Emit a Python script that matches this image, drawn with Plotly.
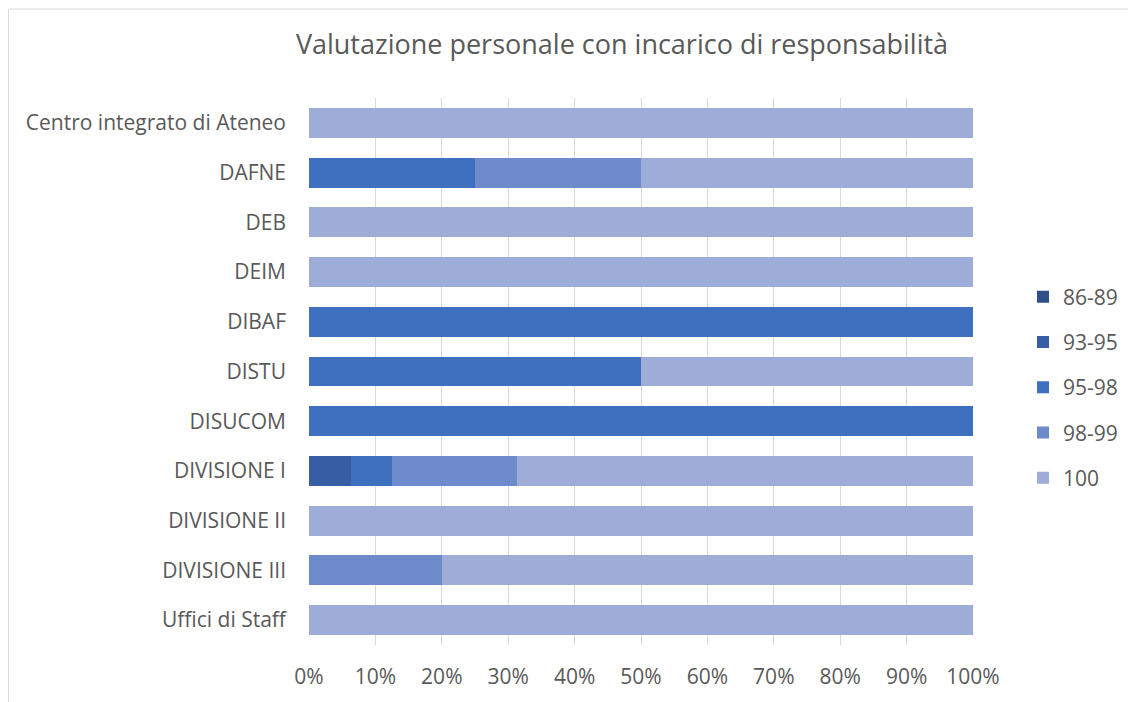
import plotly.graph_objects as go

categories = ["Centro integrato di Ateneo", "DAFNE", "DEB", "DEIM", "DIBAF", "DISTU",
              "DISUCOM", "DIVISIONE I", "DIVISIONE II", "DIVISIONE III", "Uffici di Staff"]
series_names = ["86-89", "93-95", "95-98", "98-99", "100"]
v_86_89 = [0, 0, 0, 0, 0, 0, 0, 0, 0, 0, 0]
v_93_95 = [0, 0, 0, 0, 0, 0, 0, 0.0625, 0, 0, 0]
v_95_98 = [0, 0.25, 0, 0, 1.0, 0.5, 1.0, 0.0625, 0, 0, 0]
v_98_99 = [0, 0.25, 0, 0, 0, 0, 0, 0.1875, 0, 0.2, 0]
v_100 = [1.0, 0.5, 1.0, 1.0, 0, 0.5, 0, 0.6875, 1.0, 0.8, 1.0]
series_values = [v_86_89, v_93_95, v_95_98, v_98_99, v_100]
colors = ["#2e4f8a", "#375ea5", "#3f6fbf", "#6d8acb", "#9eadd8"]
tick_vals = [i / 10 for i in range(11)]
tick_text = [f"{i*10}%" for i in range(11)]

fig = go.Figure()
for name, vals, col in zip(series_names, series_values, colors):
    fig.add_trace(go.Bar(
        y=categories, x=vals, name=name, orientation="h",
        marker=dict(color=col, line=dict(width=0)),
        legendgroup=name,
    ))

# page body has an 8px margin, so the figure is drawn 8px in from the window edge
OFF = 8
W, H = 1136 - OFF, 702 - OFF
ml, mr, mt, mb = 309 - OFF, 163, 98 - OFF, 57
pw, ph = W - ml - mr, H - mt - mb

fig.update_layout(
    width=W, height=H,
    barmode="stack", bargap=0.4,
    margin=dict(l=ml, r=mr, t=mt, b=mb),
    paper_bgcolor="white", plot_bgcolor="white",
    font=dict(family="Open Sans", size=21, color="#595959"),
    title=dict(text="Valutazione personale con incarico di responsabilità",
               x=(622 - OFF - ml) / pw, xref="paper", xanchor="center",
               y=1 - (45 - OFF) / H, yanchor="middle",
               font=dict(size=27, color="#595959")),
    xaxis=dict(range=[0, 1], tickvals=tick_vals, ticktext=tick_text,
               showgrid=True, gridcolor="#d9d9d9", gridwidth=1,
               zeroline=False, showline=False, ticks="", ticklabelstandoff=17),
    yaxis=dict(categoryorder="array", categoryarray=categories, autorange="reversed",
               showgrid=False, zeroline=False, showline=False, ticks="",
               ticklabelstandoff=22),
    legend=dict(x=(1023 - OFF - ml) / pw, xanchor="left",
                y=1 - (387.5 - 98) / ph, yanchor="middle",
                traceorder="grouped", tracegroupgap=15,
                font=dict(size=21, color="#595959"), itemwidth=30),
    shapes=[dict(type="rect", xref="paper", yref="paper",
                 x0=(0.5 - ml) / pw, x1=(W + 5 - ml) / pw,
                 y0=-(mb + 5) / ph, y1=1 + (mt - 1) / ph,
                 line=dict(color="#d9d9d9", width=1), layer="below")],
)

fig.write_html("out.html")
